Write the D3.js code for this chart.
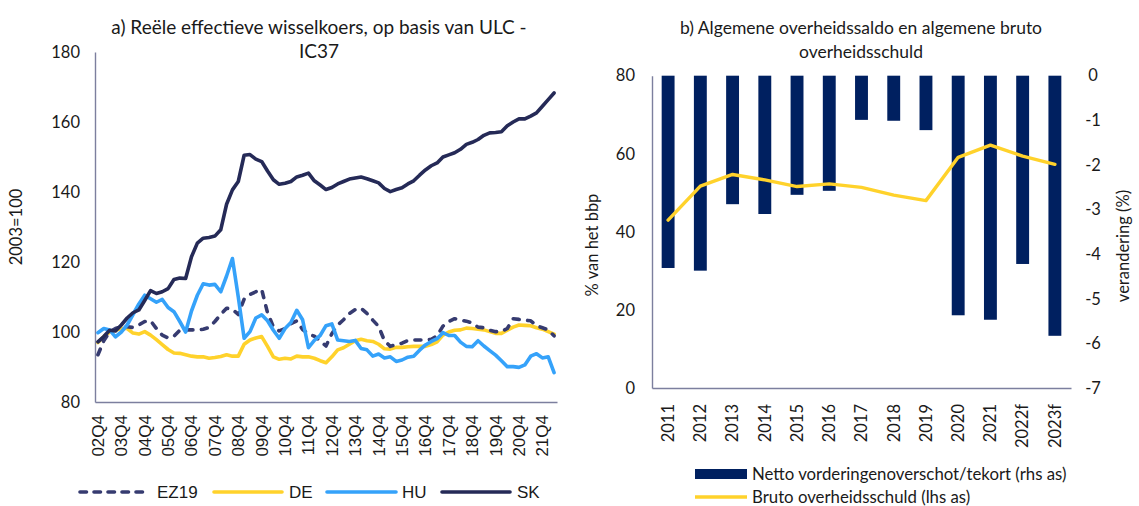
<!DOCTYPE html>
<html>
<head>
<meta charset="utf-8">
<script src="https://cdn.jsdelivr.net/npm/d3@7"></script>
<style>
  html, body { margin: 0; padding: 0; background: #fff; }
  svg { display: block; }
  .cal { font-family: Lato, "Open Sans", sans-serif; fill: #1a1a1a; }
  .ari { font-family: "Liberation Sans", Arial, sans-serif; fill: #1a1a1a; }
</style>
</head>
<body>
<svg id="chart" width="1139" height="506"></svg>
<script>
// ---- Panel a: real effective exchange rate (ULC based, IC37), 2003=100 ----
const quarterTicks = ["02Q4","03Q4","04Q4","05Q4","06Q4","07Q4","08Q4","09Q4","10Q4","11Q4",
                      "12Q4","13Q4","14Q4","15Q4","16Q4","17Q4","18Q4","19Q4","20Q4","21Q4"];
// quarterly periods 2002Q4 .. 2022Q2
const quarters = [];
for (let y = 2002; y <= 2022; y++) {
  for (let q = 1; q <= 4; q++) {
    if ((y === 2002 && q < 4) || (y === 2022 && q > 2)) continue;
    quarters.push(String(y % 100).padStart(2, "0") + "Q" + q);
  }
}
const ez19 = [93.5,97.5,100,101,101.5,101.5,101.3,102,103,103.2,101,99.1,98.3,98.8,100.5,100.6,100.6,100.6,100.8,101.3,
              103,105,106.8,106.5,105,109.4,110.7,111.5,112.2,105.5,101.5,100.3,101,102.4,103.2,100.7,99.4,98.8,97.5,96,
              99.5,102,103.5,105.3,106.4,106.8,105.3,103.4,101.6,97.5,95.9,96.4,96.8,97.6,97.7,97.7,97.7,97.9,98.9,101.7,
              103,103.8,103.4,103.1,102.6,101.4,101.2,100.5,100.1,100.1,101,103.8,103.6,103.4,103.2,101.8,101.2,100.6,98.9];
const de = [97,98.7,100,100.5,101,101,99.7,99.4,100.1,99.1,97.8,96.4,95,94,93.9,93.5,93.1,92.9,92.9,92.5,
            92.7,93,93.5,93.1,93.1,96.5,97.7,98.3,98.7,95.9,92.9,92.2,92.5,92.3,93.1,92.9,92.9,92.5,91.8,91.2,
            92.9,94.9,95.5,96.5,97.5,97.9,97.5,97.3,96.5,95.2,95.1,95.6,95.6,95.8,95.9,95.9,95.9,96.4,97.2,99.1,
            100,100.5,100.6,101.1,101,100.8,100.6,100.1,99.6,99.6,100.5,101.4,102,101.9,101.8,101.2,100.8,100.1,99.4];
const hu = [99.8,101,100.6,98.6,100,102,105,108,110.5,109.5,108.5,109.3,107,105.8,103,100,106,110.5,113.8,113.4,
            113.6,111.5,116,121,110,98.2,100.1,104,104.9,103.2,100.5,98.2,101,102.7,106.2,103.5,95.5,97.6,99,101.8,
            102.3,97.7,97.5,97.3,97.6,95.3,94.9,93.1,93.7,92.6,92.9,91.6,92,92.8,93.1,94.8,96.3,97.3,98.1,99.8,
            99,99,97.1,95.9,95.8,97.5,96,94.7,93.4,91.8,90.1,90.1,89.9,90.6,93.1,93.8,92.6,92.9,88.4];
const sk = [97.2,98.7,100.5,100.3,102,104,105.5,106.3,109,111.8,111,111.5,112.4,115,115.4,115.3,121.5,125.4,126.8,127,
            127.4,129.2,136.5,140.6,143,150.5,150.7,149.4,148.7,146,143.5,142.2,142.5,143,144.3,144.8,145.4,143.2,142,140.7,
            141.3,142.3,143,143.7,144,144.3,143.8,143.2,142.6,141,140.1,140.7,141.2,142.3,143.2,144.8,146.3,147.5,148.3,150,
            150.6,151.2,152.2,153.6,154.2,155,156.2,156.9,157,157.2,158.9,160,160.9,160.9,161.7,162.6,164.5,166.4,168.3];
const leftTicks = [80, 100, 120, 140, 160, 180];

// ---- Panel b: general government balance and gross debt ----
const years = ["2011","2012","2013","2014","2015","2016","2017","2018","2019","2020","2021","2022f","2023f"];
const balance = [-4.31,-4.37,-2.88,-3.10,-2.67,-2.58,-0.99,-1.01,-1.22,-5.37,-5.47,-4.22,-5.83]; // % change (rhs)
const debt = [43.0,51.7,54.7,53.3,51.6,52.3,51.4,49.4,48.0,59.1,62.2,59.4,57.3];                 // % of GDP (lhs)
const debtTicks = [0, 20, 40, 60, 80];
const balanceTicks = [0, -1, -2, -3, -4, -5, -6, -7];

const C = {
  ez: "#363B70", de: "#FFD22B", hu: "#35A2FA", sk: "#252A57",
  bar: "#002060", debt: "#FFD22B", axis: "#7C7F9E"
};

const svg = d3.select("#chart");

// ================= Panel a =================
const a = { left: 95, right: 557, top: 52, bottom: 402 };
const xa = d3.scaleBand().domain(quarters).range([a.left, a.right]).padding(0);
const ya = d3.scaleLinear().domain([80, 180]).range([a.bottom, a.top]);
const cx = q => xa(q) + xa.bandwidth() / 2;

const ga = svg.append("g");
ga.append("text").attr("class", "cal").attr("x", 319).attr("y", 34)
  .attr("text-anchor", "middle").style("font-size", "19px")
  .text("a) Reële effectieve wisselkoers, op basis van ULC -");
ga.append("text").attr("class", "cal").attr("x", 319).attr("y", 58)
  .attr("text-anchor", "middle").style("font-size", "19px").text("IC37");

// y axis
const yAxisA = d3.axisLeft(ya).tickValues(leftTicks).tickSize(0).tickPadding(15);
ga.append("g").attr("transform", `translate(${a.left},0)`).call(yAxisA)
  .call(g => g.select(".domain").attr("stroke", C.axis).attr("stroke-width", 1.4))
  .call(g => g.selectAll("text").attr("class", "cal").style("font-size", "16.5px").attr("fill", "#1a1a1a"));

// x axis
const xAxisA = d3.axisBottom(xa).tickValues(quarterTicks).tickSize(0).tickPadding(0);
ga.append("g").attr("transform", `translate(0,${a.bottom})`).call(xAxisA)
  .call(g => g.select(".domain").attr("stroke", C.axis).attr("stroke-width", 1.4))
  .call(g => g.selectAll("text").attr("class", "ari").style("font-size", "17px")
    .attr("fill", "#1a1a1a")
    .attr("text-anchor", "end").attr("dy", "0.35em")
    .attr("transform", "translate(0,13) rotate(-90)").attr("x", 0).attr("y", 0));

ga.append("text").attr("class", "cal").style("font-size", "16.5px")
  .attr("text-anchor", "middle")
  .attr("transform", `translate(22,${(a.top + a.bottom) / 2}) rotate(-90)`)
  .text("2003=100");

const seriesA = [
  { name: "EZ19", values: ez19, color: C.ez, dash: "6,8.5" },
  { name: "DE", values: de, color: C.de, dash: null },
  { name: "HU", values: hu, color: C.hu, dash: null },
  { name: "SK", values: sk, color: C.sk, dash: null }
];
const lineA = d3.line().x(d => cx(d.q)).y(d => ya(d.v));
const drawOrder = [seriesA[1], seriesA[0], seriesA[2], seriesA[3]];
drawOrder.forEach(s => {
  ga.append("path")
    .datum(s.values.map((v, i) => ({ q: quarters[i], v })))
    .attr("d", lineA)
    .attr("fill", "none")
    .attr("stroke", s.color)
    .attr("stroke-width", 3.6)
    .attr("stroke-linejoin", "round")
    .attr("stroke-linecap", "round")
    .attr("stroke-dasharray", s.dash);
});

// legend a
const legA = [
  { s: seriesA[0], x1: 80, x2: 149, tx: 157 },
  { s: seriesA[1], x1: 214, x2: 282, tx: 289 },
  { s: seriesA[2], x1: 327, x2: 396, tx: 402 },
  { s: seriesA[3], x1: 442, x2: 510, tx: 517 }
];
legA.forEach(l => {
  ga.append("line").attr("x1", l.x1).attr("x2", l.x2).attr("y1", 492).attr("y2", 492)
    .attr("stroke", l.s.color).attr("stroke-width", 3.6).attr("stroke-linecap", "round")
    .attr("stroke-dasharray", l.s.dash ? "6.5,7.5" : null);
  ga.append("text").attr("class", "ari").style("font-size", "17px")
    .attr("x", l.tx).attr("y", 492).attr("dy", "0.35em").text(l.s.name);
});

// ================= Panel b =================
const b = { left: 652, right: 1071, top: 75.7, bottom: 388 };
const xb = d3.scaleBand().domain(years).range([b.left, b.right]).paddingInner(0.6).paddingOuter(0.3);
const yDebt = d3.scaleLinear().domain([0, 80]).range([b.bottom, b.top]);
const yBal = d3.scaleLinear().domain([-7, 0]).range([b.bottom, b.top]);

const gb = svg.append("g");
gb.append("text").attr("class", "cal").attr("x", 861).attr("y", 34)
  .attr("text-anchor", "middle").style("font-size", "17.5px")
  .text("b) Algemene overheidssaldo en algemene bruto");
gb.append("text").attr("class", "cal").attr("x", 861).attr("y", 58)
  .attr("text-anchor", "middle").style("font-size", "17.5px").text("overheidsschuld");

// bars (deficit, rhs)
gb.append("g").selectAll("rect").data(years).join("rect")
  .attr("x", d => xb(d))
  .attr("width", xb.bandwidth())
  .attr("y", yBal(0))
  .attr("height", (d, i) => yBal(balance[i]) - yBal(0))
  .attr("fill", C.bar);

// axes
gb.append("g").attr("transform", `translate(${b.left},0)`)
  .call(d3.axisLeft(yDebt).tickValues(debtTicks).tickSize(0).tickPadding(17))
  .call(g => g.select(".domain").attr("stroke", C.axis).attr("stroke-width", 1.4))
  .call(g => g.selectAll("text").attr("class", "cal").style("font-size", "16.5px").attr("fill", "#1a1a1a"));

gb.append("g").attr("transform", `translate(${b.right},0)`)
  .call(d3.axisRight(yBal).tickValues(balanceTicks).tickSize(0).tickFormat(d => String(d)))
  .call(g => g.select(".domain").remove())
  .call(g => g.selectAll("text").attr("class", "cal").style("font-size", "16.5px").attr("fill", "#1a1a1a")
    .attr("text-anchor", "middle").attr("x", 22));

gb.append("g").attr("transform", `translate(0,${b.bottom})`)
  .call(d3.axisBottom(xb).tickSize(0).tickPadding(0))
  .call(g => g.select(".domain").attr("stroke", C.axis).attr("stroke-width", 1.4))
  .call(g => g.selectAll("text").attr("class", "cal").style("font-size", "16.5px")
    .attr("fill", "#1a1a1a")
    .attr("text-anchor", "end").attr("dy", "0.35em")
    .attr("transform", "translate(0,16) rotate(-90)").attr("x", 0).attr("y", 0));

gb.append("text").attr("class", "cal").style("font-size", "16.5px")
  .attr("text-anchor", "middle")
  .attr("transform", `translate(598,245) rotate(-90)`)
  .text("% van het bbp");
gb.append("text").attr("class", "cal").style("font-size", "16.5px")
  .attr("text-anchor", "middle")
  .attr("transform", `translate(1129,246) rotate(-90)`)
  .text("verandering (%)");

// debt line (lhs)
const lineB = d3.line().x(d => xb(d.y) + xb.bandwidth() / 2).y(d => yDebt(d.v));
gb.append("path")
  .datum(debt.map((v, i) => ({ y: years[i], v })))
  .attr("d", lineB)
  .attr("fill", "none").attr("stroke", C.debt).attr("stroke-width", 3.4)
  .attr("stroke-linejoin", "round").attr("stroke-linecap", "round");

// legend b
gb.append("rect").attr("x", 695).attr("y", 469).attr("width", 52).attr("height", 10).attr("fill", C.bar);
gb.append("text").attr("class", "cal").style("font-size", "16.8px")
  .attr("x", 752).attr("y", 474).attr("dy", "0.35em")
  .text("Netto vorderingenoverschot/tekort (rhs as)");
gb.append("line").attr("x1", 695).attr("x2", 747).attr("y1", 497).attr("y2", 497)
  .attr("stroke", C.debt).attr("stroke-width", 3.6);
gb.append("text").attr("class", "cal").style("font-size", "16.8px")
  .attr("x", 752).attr("y", 497).attr("dy", "0.35em")
  .text("Bruto overheidsschuld (lhs as)");
</script>
</body>
</html>
